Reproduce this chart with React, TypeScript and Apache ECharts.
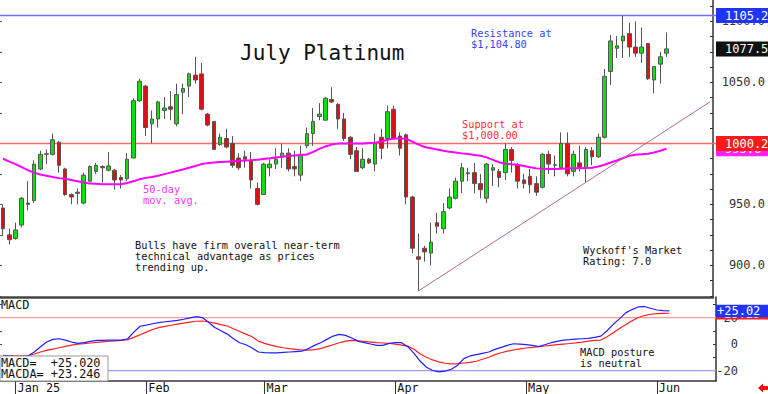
import React, { useEffect, useRef } from 'react';
import * as echarts from 'echarts';

// ---- price data (Dec 30 2024 .. Jun 4 2025, one value per trading day) ----
const opens = [
  947, 925, 922, 933, 951, 953, 979, 991, 991, 1001, 979, 958, 960, 951, 969, 977, 981, 978, 978,
  972, 971, 988, 1035, 1047, 1016, 1020, 1027, 1030, 1016, 1042, 1047, 1056, 1057, 1024, 1018, 999, 1004,
  1000, 988, 989, 986, 963, 958, 980, 983, 989, 992, 981, 974, 998, 1008, 1022, 1019, 1036, 1032, 1020,
  1005, 994, 980, 987, 983, 1005, 1004, 1028, 1006, 1007, 956, 907, 914, 910, 935, 930, 947, 955,
  969, 975, 976, 967, 955, 978, 977, 976, 995, 982, 970, 973, 967, 964, 991, 982, 980, 1000, 977,
  984, 980, 994, 989, 1005, 1059, 1078, 1084, 1090, 1079, 1074, 1082, 1052, 1065, 1074,
];
const closes = [
  930, 921, 929, 955, 950, 983, 991, 991.5, 1003, 982, 958, 956, 959, 974, 981, 982, 980, 981.5, 970,
  970, 987, 1035, 1051, 1013, 1020, 1034, 1029, 1028, 1040, 1045, 1057, 1052, 1028, 1015, 995, 1005, 997,
  982, 980, 987, 970, 950, 983, 983, 987, 992, 979, 979, 991, 1008, 1018, 1024, 1037, 1034, 1020, 1004,
  991, 977, 987, 984, 1000, 996, 1026, 1004, 996, 956, 914, 905, 911, 919, 932, 944, 956, 969,
  980, 976, 967, 962, 983, 980, 972, 995, 986, 969, 967, 966, 960, 991, 983, 982.5, 1000, 975, 991,
  980, 995, 989, 1005, 1055, 1084, 1080, 1088, 1079, 1074, 1079, 1053, 1063, 1071, 1077.5,
];
const lows = [
  924, 917, 921, 931, 945, 951, 978, 983, 990, 976, 957, 950, 950, 950, 968, 975, 968, 977, 962,
  963, 969, 988, 1034, 1006, 1000, 1013, 1020, 1019, 1014, 1024, 1038, 1049, 1027, 1014, 995, 998, 996,
  980, 978, 980, 963, 949, 958, 973, 979, 980, 977, 973, 969, 996, 998, 1019, 1019, 1033, 1012, 1002,
  987, 977, 979, 983, 977, 987, 996, 1003, 990, 950, 910, 879, 903, 900, 926, 926, 946, 954,
  959, 969, 959, 955, 951, 965, 964, 970, 976, 963, 963, 959, 957, 963, 975, 973, 979, 973, 973,
  977, 968, 982, 988, 1004, 1048, 1070, 1070, 1071, 1071, 1066, 1052, 1041, 1049, 1071,
];
const highs = [
  950, 930, 935, 956, 969, 986, 994, 995, 1008, 1002, 980, 959, 963, 976, 982, 984, 982, 993, 979,
  974, 992, 1037, 1053, 1048, 1027, 1035, 1038, 1043, 1049, 1049, 1058, 1071, 1066, 1025, 1018, 1008, 1012,
  1006, 992, 994, 993, 968, 984, 987, 996, 1000, 996, 994, 998, 1013, 1029, 1033, 1038, 1046, 1033, 1025,
  1006, 997, 996, 988, 1008, 1012, 1031, 1031, 1009, 1008, 957, 926, 916, 935, 943, 951, 963, 972,
  984, 980, 984, 975, 984, 983, 979, 1000, 997, 984, 975, 979, 973, 992, 994, 990, 1009, 1009, 994,
  998, 997, 997, 1008, 1061, 1089, 1088, 1104.8, 1099, 1100, 1095, 1082, 1063, 1075, 1091,
];
const ma50 = [
  987.4, 985, 983, 980.5, 978, 976, 974.5, 973.5, 972.5, 971.5, 971, 970, 969, 968, 967, 966.8, 966.5, 966.5, 966.5,
  966.5, 967.5, 969, 970.5, 971.7, 972.5, 973.5, 974.8, 976, 977.3, 978.6, 980, 981.5, 983, 983.8, 984.3, 984.7, 985,
  985.3, 985.6, 985.9, 986.2, 986.6, 987.2, 987.8, 988.5, 989.1, 989.7, 990.1, 990.5, 990.9, 993, 995.5, 997.5, 999, 999.8,
  999.8, 999.8, 999.8, 1000, 1000.3, 1000.6, 1001.5, 1003, 1004, 1004, 1003.8, 1001.5, 999, 997, 996, 995, 994, 993.2, 992.5,
  991.8, 991.2, 990.5, 989.9, 988.5, 986.5, 984.5, 983.3, 982.8, 982.4, 981.5, 980.5, 979.5, 979.1, 979, 979, 979.1, 979.3,
  979.5, 979.6, 979.8, 980, 981, 982.5, 984.3, 986, 988, 989.9, 990.6, 991, 991.5, 992.5, 994, 995.6,
];
const macd = [
  -8.5, -9, -9.5, -9.5, -9, -6, -2, 1.5, 3.5, 4, 3, 1.5, 0.5, 1, 2, 2.7, 2.8, 3, 3,
  3, 4, 9, 13.4, 14.3, 15.3, 16.2, 16.8, 17.3, 17.9, 18.7, 19.8, 20.7, 20, 16.5, 12.5, 10, 7.5,
  4, 1, -0.5, -3, -6, -6.5, -6.7, -6.6, -6.3, -6, -5.7, -5.4, -3.5, -1, 1, 3.5, 6, 7.3,
  6.5, 4.5, 2.2, 1, 0, -1, -1, 0.5, 1, 1, -2, -7, -13, -17.5, -20, -21, -20.5, -19, -16,
  -11, -9, -8, -7, -6, -4, -2.5, -1, 0.2, 0, -0.5, -1, -2, -0.5, 1, 2, 3, 3.3,
  3.7, 4, 4.3, 5, 6, 10, 14.9, 19, 23.5, 26, 28, 28.3, 27, 25.7, 25.2, 25.02,
];
const macdAvg = [
  -8.7, -8.8, -8.9, -8.9, -8.7, -7.5, -6, -4.8, -3.8, -2.8, -1.8, -0.8, 0, 0.3, 0.8, 1.3, 1.7, 2.1, 2.4,
  2.7, 3.3, 5, 7, 9, 11, 12.4, 13.3, 14.2, 15, 15.8, 16.6, 17.2, 17.4, 16.8, 15.8, 14.7, 13.6,
  11.5, 9.5, 7.5, 5.5, 2.2, 0.5, -0.8, -2, -2.8, -3.5, -4.1, -4.5, -4.6, -4.2, -3.5, -2, -0.5, 1,
  2.2, 2.7, 2.5, 2, 1.5, 1, 0.8, 0.5, 0, -0.8, -1.6, -4, -7.5, -10, -12, -13.5, -14.5, -15, -14.8,
  -14.3, -13.8, -13, -11.5, -10, -8, -6.6, -5.4, -4.5, -3.6, -3, -2.5, -2, -1.5, -1, -0.5, 0, 0.4,
  0.9, 1.5, 2.2, 2.7, 3, 5.5, 8.5, 11.8, 14.5, 17.5, 20, 21.5, 22.5, 23, 23.2, 23.246,
];

const resistance = 1104.8;
const support = 1000;
const resistanceBadge = '1105.2';
const supportBadge = '1000.2';
const macdUpper = 20;
const macdLower = -20;
const trendStart = [67, 879];
const trendEnd = [114, 1034];

const holidays = ['2025-01-01', '2025-01-20', '2025-02-17', '2025-04-18', '2025-05-26'];
const totalSlots = 115;
const monthNames = ['Jan', 'Feb', 'Mar', 'Apr', 'May', 'Jun', 'Jul', 'Aug', 'Sep', 'Oct', 'Nov', 'Dec'];
const priceLabels = [900, 950, 1000, 1050, 1100];
const macdLabels = [-20, 0, 20];
const macdTicks = [-20, -10, 0, 10, 20, 30];

const MONO = '"DejaVu Sans Mono", monospace';

function buildDays() {
  const days: Date[] = [];
  const d = new Date(Date.UTC(2024, 11, 30));
  while (days.length < totalSlots) {
    const wd = d.getUTCDay();
    const iso = d.toISOString().slice(0, 10);
    if (wd !== 0 && wd !== 6 && !holidays.includes(iso)) days.push(new Date(d.getTime()));
    d.setUTCDate(d.getUTCDate() + 1);
  }
  return days;
}

export default function App() {
  const ref = useRef<HTMLDivElement>(null);
  useEffect(() => {
    if (!ref.current) return;
    const chart = echarts.init(ref.current, undefined, { renderer: 'svg' });
    const days = buildDays();
    const cats = days.map((d) => d.toISOString().slice(0, 10));
    const monthLabel: Record<number, string> = {};
    days.forEach((d, i) => {
      if (i > 0 && d.getUTCMonth() !== days[i - 1].getUTCMonth()) {
        const m = d.getUTCMonth();
        monthLabel[i] = m === 0 ? `Jan ${String(d.getUTCFullYear()).slice(2)}` : monthNames[m];
      }
    });
    const isMonth = (i: number) => monthLabel[i] !== undefined;
    const last = closes.length - 1;
    const candles = opens.map((o, i) => [o, closes[i], lows[i], highs[i]]);
    const priceTicks: number[] = [];
    for (let v = 875; v <= 1115; v += 12.5) priceTicks.push(v);
    const leftTicks: number[] = [];
    for (let v = 875; v <= 1115; v += 25) leftTicks.push(v);
    const sgn = (v: number, n: number) => (v >= 0 ? '+' : '') + v.toFixed(n);

    const txt = (text: string, x: number, y: number, fill: string, size = 10.3) => ({
      type: 'text',
      x,
      y,
      z: 100,
      style: { text, fill, font: `${size}px ${MONO}`, verticalAlign: 'middle', align: 'left' },
    });

    chart.setOption({
      animation: false,
      backgroundColor: '#fff',
      grid: [
        { left: 0, top: 0, width: 716, height: 297 },
        { left: 0, top: 297, width: 716, height: 84 },
      ],
      xAxis: [
        {
          type: 'category', gridIndex: 0, data: cats, boundaryGap: true,
          axisLine: { show: true, onZero: false, lineStyle: { color: '#444', width: 2.5 } },
          axisTick: { show: false }, axisLabel: { show: false }, splitLine: { show: false },
        },
        {
          type: 'category', gridIndex: 1, data: cats, boundaryGap: true,
          axisLine: { show: true, onZero: false, lineStyle: { color: '#333', width: 1.5 } },
          axisTick: { show: true, alignWithLabel: true, interval: (i: number) => isMonth(i), length: 13, lineStyle: { color: '#333' } },
          axisLabel: {
            show: true, interval: (i: number) => isMonth(i),
            formatter: (_v: string, i: number) => monthLabel[i] || '',
            align: 'left', padding: [0, 0, 0, 2], margin: 1,
            color: '#111', fontFamily: MONO, fontSize: 11.8,
          },
          splitLine: { show: false },
        },
      ],
      yAxis: [
        {
          type: 'value', gridIndex: 0, position: 'right', min: 874, max: 1117.6,
          splitLine: { show: false },
          axisLine: { show: true, lineStyle: { color: '#333', width: 1.5 } },
          axisTick: { show: true, inside: true, length: 3, customValues: priceTicks, lineStyle: { color: '#333' } },
          axisLabel: {
            show: true, customValues: priceLabels, formatter: (v: number) => v.toFixed(1),
            align: 'right', margin: 52, color: '#333', fontFamily: MONO, fontSize: 12,
          },
        },
        {
          type: 'value', gridIndex: 1, position: 'right', min: -27.9, max: 35.5,
          splitLine: { show: false },
          axisLine: { show: true, lineStyle: { color: '#333', width: 1.5 } },
          axisTick: { show: true, inside: true, length: 3, customValues: macdTicks, lineStyle: { color: '#333' } },
          axisLabel: {
            show: true, customValues: macdLabels, formatter: (v: number) => String(v),
            align: 'right', margin: 22, color: '#333', fontFamily: MONO, fontSize: 12,
          },
        },
        {
          type: 'value', gridIndex: 0, position: 'left', min: 874, max: 1117.6,
          splitLine: { show: false }, axisLine: { show: false },
          axisTick: { show: true, inside: true, length: 2, customValues: leftTicks, lineStyle: { color: '#555' } },
          axisLabel: { show: false },
        },
        {
          type: 'value', gridIndex: 1, position: 'left', min: -27.9, max: 35.5,
          splitLine: { show: false }, axisLine: { show: false },
          axisTick: { show: true, inside: true, length: 2, customValues: macdTicks, lineStyle: { color: '#555' } },
          axisLabel: { show: false },
        },
      ],
      series: [
        {
          type: 'candlestick', xAxisIndex: 0, yAxisIndex: 0, data: candles, barWidth: 4, z: 2,
          itemStyle: { color: '#11dd11', color0: '#dd1111', borderColor: '#555', borderColor0: '#555', borderWidth: 1 },
        },
        {
          type: 'line', xAxisIndex: 0, yAxisIndex: 0, data: ma50, showSymbol: false, z: 3,
          lineStyle: { color: '#ff00ff', width: 2 },
        },
        {
          type: 'line', xAxisIndex: 0, yAxisIndex: 0, data: [trendStart, trendEnd], showSymbol: false, z: 3,
          lineStyle: { color: '#b06a90', width: 1 },
        },
        {
          type: 'line', xAxisIndex: 1, yAxisIndex: 1, data: macdAvg, showSymbol: false, z: 3,
          lineStyle: { color: '#ff2020', width: 1.2 },
        },
        {
          type: 'line', xAxisIndex: 1, yAxisIndex: 1, data: macd, showSymbol: false, z: 4,
          lineStyle: { color: '#2020ff', width: 1.2 },
        },
      ],
    });

    // reference lines and value badges, positioned through the axes' scales
    const py = (axis: number, v: number) => chart.convertToPixel({ yAxisIndex: axis } as any, v) as number;
    const refLine = (axis: number, v: number, color: string, width: number, z: number) => ({
      type: 'line', z, silent: true,
      shape: { x1: 0, y1: py(axis, v), x2: 716, y2: py(axis, v) },
      style: { stroke: color, lineWidth: width },
    });
    let zc = 100;
    const badge = (axis: number, v: number, text: string, bg: string, h: number, padL: number) => {
      const zr = zc++;
      const zt = zc++;
      return [
        {
          type: 'rect', z: zr,
          shape: { x: 716, y: py(axis, v) - h / 2, width: 52, height: h },
          style: { fill: bg },
        },
        {
          type: 'text', z: zt, x: 716 + padL, y: py(axis, v) + 0.5,
          style: { text, fill: '#fff', font: `12px ${MONO}`, verticalAlign: 'middle', align: 'left' },
        },
      ];
    };

    chart.setOption({
      graphic: [
        refLine(0, support, '#ff6a6a', 1.5, 1),
        refLine(0, resistance, '#6f6fff', 1.5, 1),
        refLine(1, macdUpper, '#ff9a9a', 1.2, 1),
        refLine(1, macdLower, '#9a9aff', 1.2, 1),
        txt('July Platinum', 240, 53, '#111', 21),
        txt('Resistance at', 471, 33, '#3344ff'),
        txt('$1,104.80', 471, 44, '#3344ff'),
        txt('Support at', 462, 124, '#ff3333'),
        txt('$1,000.00', 462, 135, '#ff3333'),
        txt('50-day', 143, 189, '#ff33ff'),
        txt('mov. avg.', 143, 200, '#ff33ff'),
        txt('Bulls have firm overall near-term', 135, 245, '#111'),
        txt('technical advantage as prices', 135, 256, '#111'),
        txt('trending up.', 135, 267, '#111'),
        txt("Wyckoff's Market", 583, 250, '#111'),
        txt('Rating: 7.0', 583, 261, '#111'),
        txt('MACD posture', 580, 352, '#111'),
        txt('is neutral', 580, 363, '#111'),
        txt('MACD', 1, 304.5, '#111', 11.8),
        {
          type: 'rect', z: 99,
          shape: { x: 0, y: 356, width: 108, height: 25 },
          style: { fill: '#fff', stroke: '#999', lineWidth: 1 },
        },
        txt(`MACD=  ${sgn(macd[last], 3)}`, 1, 362.5, '#111', 11.8),
        txt(`MACDA= ${sgn(macdAvg[last], 3)}`, 1, 374, '#111', 11.8),
        {
          type: 'polygon', z: 100,
          shape: { points: [[758, 388], [763, 383.5], [763, 386], [768, 386], [768, 390], [763, 390], [763, 392.5]] },
          style: { fill: '#ee1111' },
        },
        ...badge(0, ma50[last], ma50[last].toFixed(1), '#ff22ff', 15, 9),
        ...badge(0, support, supportBadge, '#ff1a1a', 15, 9),
        ...badge(0, resistance, resistanceBadge, '#1f35ff', 15, 9),
        ...badge(0, closes[last], closes[last].toFixed(1), '#111111', 15, 9),
        ...badge(1, macdAvg[last], sgn(macdAvg[last], 2), '#ff1a1a', 12.5, 1),
        ...badge(1, macd[last], sgn(macd[last], 2), '#1f35ff', 12.5, 1),
      ],
    });
    return () => chart.dispose();
  }, []);
  return (
    <div
      ref={ref}
      style={{ position: 'absolute', left: 0, top: 0, width: 768, height: 394, background: '#fff' }}
    />
  );
}
